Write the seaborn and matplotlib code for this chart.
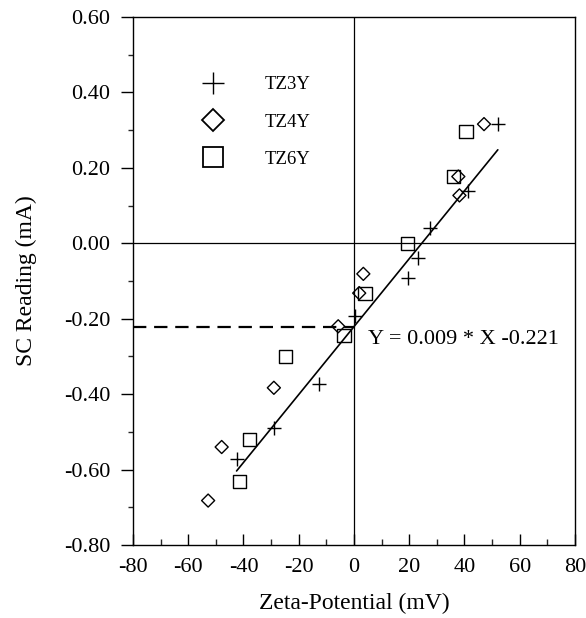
import matplotlib
matplotlib.use("Agg")
import matplotlib.pyplot as plt
import numpy as np
import pandas as pd
import seaborn as sns
from matplotlib.lines import Line2D
from matplotlib.ticker import MultipleLocator, FormatStrFormatter

# Zeta-potential (mV) and SC reading (mA) for each powder
tz3y_zeta = [-42.5, -29.0, -12.6, 0.4, 19.7, 23.1, 27.5, 41.4, 52.1]
tz3y_sc = [-0.573, -0.489, -0.374, -0.193, -0.092, -0.039, 0.041, 0.140, 0.316]

tz4y_zeta = [-52.8, -47.9, -29.0, -5.7, 1.9, 3.4, 38.2, 37.8, 47.1]
tz4y_sc = [-0.682, -0.540, -0.383, -0.220, -0.132, -0.081, 0.127, 0.177, 0.316]

tz6y_zeta = [-41.3, -37.7, -24.7, -3.6, 4.0, 19.3, 36.0, 40.6]
tz6y_sc = [-0.632, -0.520, -0.301, -0.244, -0.132, 0.000, 0.177, 0.297]

series_names = ["TZ3Y", "TZ4Y", "TZ6Y"]

# Linear fit Y = slope * X + intercept, drawn over the fitted range
slope = 0.009
intercept = -0.221
fit_range = [-42.5, 52.1]

x_ticks = [-80, -60, -40, -20, 0, 20, 40, 60, 80]
y_ticks = [-0.80, -0.60, -0.40, -0.20, 0.00, 0.20, 0.40, 0.60]

sns.set_theme(style="white")
plt.rcParams["font.family"] = ["Liberation Serif", "DejaVu Serif"]
plt.rcParams["text.color"] = "black"
plt.rcParams["axes.labelcolor"] = "black"
plt.rcParams["axes.edgecolor"] = "black"
plt.rcParams["axes.linewidth"] = 1.0

fig = plt.figure(figsize=(5.86, 6.18), dpi=100)
ax = fig.add_axes([0.227, 0.118, 0.754, 0.8545])

df3 = pd.DataFrame({"zeta": tz3y_zeta, "sc": tz3y_sc})
df4 = pd.DataFrame({"zeta": tz4y_zeta, "sc": tz4y_sc})
df6 = pd.DataFrame({"zeta": tz6y_zeta, "sc": tz6y_sc})

# Reference axes through the origin
ax.axhline(0, color="black", lw=0.9, zorder=1)
ax.axvline(0, color="black", lw=0.9, zorder=1)

# Intercept guide
ax.plot([x_ticks[0], 0], [intercept, intercept], color="black", lw=1.6,
        ls=(0, (6, 3.5)), zorder=2)

# Fitted line
fit_x = np.array(fit_range)
fit_df = pd.DataFrame({"zeta": fit_x, "sc": slope * fit_x + intercept})
sns.lineplot(data=fit_df, x="zeta", y="sc", color="black", lw=1.2, ax=ax,
             legend=False, zorder=3)

sns.scatterplot(data=df3, x="zeta", y="sc", marker="+", s=95, color="black",
                linewidth=1.0, ax=ax, legend=False, zorder=4)
sns.scatterplot(data=df4, x="zeta", y="sc", marker="D", s=44, color="none",
                edgecolor="black", linewidth=1.0, ax=ax, legend=False, zorder=4)
sns.scatterplot(data=df6, x="zeta", y="sc", marker="s", s=90, color="none",
                edgecolor="black", linewidth=1.0, ax=ax, legend=False, zorder=4)

ax.text(5.1, -0.254, f"Y = {slope} * X {intercept}", ha="left", va="center",
        fontsize=16, color="black")

ax.set_xlim(-80, 80)
ax.set_ylim(-0.80, 0.60)
ax.set_xticks(x_ticks)
ax.set_yticks(y_ticks)
ax.xaxis.set_minor_locator(MultipleLocator(10))
ax.yaxis.set_minor_locator(MultipleLocator(0.1))
ax.yaxis.set_major_formatter(FormatStrFormatter("%.2f"))
ax.xaxis.set_major_formatter(FormatStrFormatter("%d"))

ax.tick_params(axis="x", which="major", direction="in", length=8, width=1.0,
               labelsize=16, pad=9, bottom=True, top=False, colors="black")
ax.tick_params(axis="x", which="minor", direction="in", length=4, width=1.0,
               bottom=True, top=False)
ax.tick_params(axis="y", which="major", direction="out", length=8.5, width=1.0,
               labelsize=16, pad=8, left=True, right=False, colors="black")
ax.tick_params(axis="y", which="minor", direction="out", length=3.5, width=1.0,
               left=True, right=False)

ax.set_xlabel("Zeta-Potential (mV)", fontsize=17, labelpad=12, color="black")
ax.set_ylabel("SC Reading (mA)", fontsize=17, labelpad=19, color="black")

for side in ["top", "right", "bottom", "left"]:
    ax.spines[side].set_visible(True)
    ax.spines[side].set_color("black")
    ax.spines[side].set_linewidth(1.0)

handles = [
    Line2D([], [], ls="none", marker="+", color="black", markersize=16.5,
           markeredgewidth=1.0),
    Line2D([], [], ls="none", marker="D", markerfacecolor="none",
           markeredgecolor="black", markersize=11, markeredgewidth=1.3),
    Line2D([], [], ls="none", marker="s", markerfacecolor="none",
           markeredgecolor="black", markersize=14.4, markeredgewidth=1.3),
]
leg = ax.legend(handles, series_names, loc="upper left",
                bbox_to_anchor=(0.138, 0.888), frameon=False, fontsize=13.5,
                borderpad=0, borderaxespad=0, handlelength=2.0,
                handletextpad=1.75, labelspacing=1.08)
for t in leg.get_texts():
    t.set_color("black")

fig.savefig("out.png", dpi=100)
